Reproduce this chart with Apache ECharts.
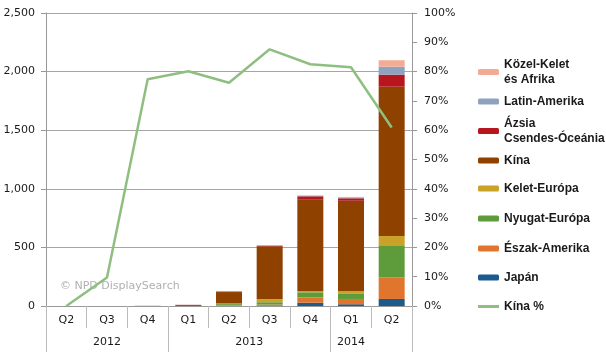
<!DOCTYPE html>
<html>
<head>
<meta charset="utf-8">
<script src="https://cdn.jsdelivr.net/npm/echarts@6/dist/echarts.min.js"></script>
<style>html,body{margin:0;padding:0;background:#fff}#c{width:606px;height:360px}</style>
</head>
<body>
<div id="c"></div>
<script>
const quarters = ['Q2','Q3','Q4','Q1','Q2','Q3','Q4','Q1','Q2'];
const years = ['2012','2013','2014'];
const yearCenters = [1.5, 5, 7.5];
const yearBounds = [0, 3, 7, 9];
const leftTicks = [0, 500, 1000, 1500, 2000, 2500];

const japan   = [0, 0, 0, 0, 3, 5, 28, 15, 60];
const northAm = [0, 0, 0, 1, 5, 7, 46, 45, 185];
const westEu  = [0, 0, 0, 0, 8, 20, 43, 48, 267];
const eastEu  = [0, 0, 0, 0, 6, 25, 11, 20, 85];
const china   = [0, 0, 0, 8, 97, 452, 782, 770, 1274];
const asiaPac = [0, 0, 0, 1, 5, 6, 26, 21, 103];
const latinAm = [0, 0, 0, 0, 2, 1, 4, 8, 68];
const meAfr   = [0, 0, 4, 0, 2, 1, 5, 4, 55];
const chinaPct = [0, 9.7, 77.4, 80.1, 76.2, 87.6, 82.5, 81.5, 60.9];

const barSeries = [
  ['Japán', japan, '#1d5a8e'],
  ['Észak-Amerika', northAm, '#e0762e'],
  ['Nyugat-Európa', westEu, '#5e9b3b'],
  ['Kelet-Európa', eastEu, '#c9a227'],
  ['Kína', china, '#8f4200'],
  ['Ázsia Csendes-Óceánia', asiaPac, '#b8161e'],
  ['Latin-Amerika', latinAm, '#8ea2c0'],
  ['Közel-Kelet és Afrika', meAfr, '#f4ab93']
];
const lineName = 'Kína %';
const lineColor = '#8fbf80';

const legendLabels = {
  'Közel-Kelet és Afrika': 'Közel-Kelet\nés Afrika',
  'Ázsia Csendes-Óceánia': 'Ázsia\nCsendes-Óceánia'
};
const legendTops = [
  ['Közel-Kelet és Afrika', 57],
  ['Latin-Amerika', 94],
  ['Ázsia Csendes-Óceánia', 116],
  ['Kína', 153],
  ['Kelet-Európa', 181],
  ['Nyugat-Európa', 211],
  ['Észak-Amerika', 241],
  ['Japán', 270],
  [lineName, 299]
];

const txt = {fontFamily: 'DejaVu Sans', fontSize: 11, color: '#1a1a1a'};

const series = barSeries.map(([name, data, color]) => ({
  name, type: 'bar', stack: 'total', data, barWidth: 26,
  itemStyle: {color}, emphasis: {disabled: true}
}));
series.push({
  name: lineName, type: 'line', yAxisIndex: 1, data: chinaPct,
  symbol: 'none', z: 10,
  lineStyle: {color: lineColor, width: 2.5}, itemStyle: {color: lineColor}
});

const legends = legendTops.map(([name, top]) => {
  const isLine = name === lineName;
  return {
    data: [isLine ? {name, icon: 'rect', itemStyle: {color: lineColor}} : name],
    orient: 'vertical', left: 478, top, padding: 0,
    itemWidth: 21, itemHeight: isLine ? 3 : 6, itemGap: 0,
    formatter: n => legendLabels[n] || n,
    textStyle: {fontFamily: 'Liberation Sans', fontSize: 12, fontWeight: 'bold', color: '#1a1a1a', lineHeight: 15},
    selectedMode: false
  };
});

const chart = echarts.init(document.getElementById('c'), null, {renderer: 'canvas'});
chart.setOption({
  animation: false,
  backgroundColor: '#fff',
  grid: {left: 46, right: 194, top: 13, bottom: 54},
  legend: legends,
  graphic: [{
    type: 'text', left: 60, top: 281,
    style: {text: '© NPD DisplaySearch', fontFamily: 'DejaVu Sans', fontSize: 11, fill: '#b0b0b0'}
  }],
  xAxis: [{
    type: 'category', data: quarters, position: 'bottom',
    axisLine: {show: true, lineStyle: {color: '#999'}},
    axisTick: {show: true, interval: 0, length: 22, lineStyle: {color: '#bbb'}},
    axisLabel: Object.assign({margin: 9, interval: 0}, txt)
  }, {
    type: 'value', min: 0, max: 9, position: 'bottom',
    axisLine: {show: false},
    splitLine: {show: false},
    axisTick: {show: true, customValues: yearBounds, length: 46, lineStyle: {color: '#bbb'}},
    axisLabel: Object.assign({
      margin: 31, customValues: yearCenters,
      formatter: v => years[yearCenters.indexOf(v)] || ''
    }, txt)
  }],
  yAxis: [{
    type: 'value', min: leftTicks[0], max: leftTicks[leftTicks.length - 1], interval: 500,
    axisLine: {show: true, lineStyle: {color: '#999'}},
    axisTick: {show: true, length: 5, lineStyle: {color: '#999'}},
    splitLine: {show: true, lineStyle: {color: '#a6a6a6'}},
    axisLabel: Object.assign({margin: 11, formatter: v => v.toLocaleString('en-US')}, txt)
  }, {
    type: 'value', min: 0, max: 100, interval: 10, position: 'right',
    axisLine: {show: true, lineStyle: {color: '#999'}},
    axisTick: {show: true, length: 5, lineStyle: {color: '#999'}},
    splitLine: {show: false},
    axisLabel: Object.assign({margin: 12, formatter: v => v + '%'}, txt)
  }],
  series
});
</script>
</body>
</html>
